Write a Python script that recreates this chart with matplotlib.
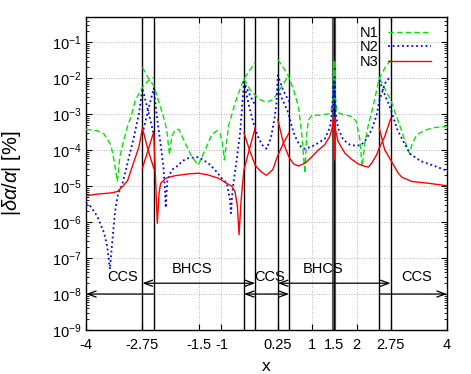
import numpy as np
import matplotlib
matplotlib.use('Agg')
import matplotlib.pyplot as plt
from matplotlib.ticker import LogFormatterSciNotation, FixedLocator, FixedFormatter, NullFormatter
from matplotlib.lines import Line2D

plt.rcParams['font.family'] = ['Liberation Sans', 'DejaVu Sans']
plt.rcParams['mathtext.fontset'] = 'custom'
plt.rcParams['mathtext.rm'] = 'Liberation Sans'
plt.rcParams['mathtext.it'] = 'Liberation Sans:italic'
plt.rcParams['mathtext.bf'] = 'Liberation Sans:bold'

# ---------------- data: x and log10(|dalpha/alpha| [%]) ----------------
# N1 (green dashed)
n1_ccs1_x = [-4.0, -3.75, -3.6, -3.45, -3.38, -3.305, -3.25, -3.19, -3.08, -3.0, -2.9, -2.75, -2.625, -2.5]
n1_ccs1_lg = [-3.42, -3.46, -3.55, -3.85, -4.27, -4.87, -4.18, -3.85, -3.34, -3.05, -2.6, -2.25, -2.08, -1.98]
n1_bh1_x = [-2.75, -2.625, -2.5, -2.4, -2.285, -2.21, -2.15, -2.1, -2.026, -1.94, -1.805, -1.657, -1.51,
            -1.36, -1.214, -1.103, -1.03, -0.977, -0.933, -0.904, -0.844, -0.697, -0.6, -0.5, -0.375, -0.25]
n1_bh1_lg = [-1.7, -1.98, -2.2, -2.6, -3.06, -3.44, -4.13, -3.62, -3.44, -3.42, -3.8, -4.18, -4.41,
             -3.99, -3.57, -3.46, -3.53, -3.8, -4.27, -3.99, -3.34, -2.69, -2.35, -2.02, -1.78, -1.56]
n1_ccs2_x = [-0.5, -0.366, -0.25, -0.15, 0.0, 0.148, 0.25, 0.375, 0.5]
n1_ccs2_lg = [-2.02, -2.31, -2.47, -2.59, -2.67, -2.59, -2.4, -2.15, -1.9]
n1_bh2_x = [0.25, 0.375, 0.486, 0.6, 0.708, 0.78, 0.85, 0.893, 0.93, 1.0, 1.226, 1.37, 1.43, 1.47, 1.49,
            1.5, 1.51, 1.53, 1.57, 1.735, 1.883, 1.99, 2.07, 2.12, 2.18, 2.25, 2.36, 2.5, 2.62, 2.75]
n1_bh2_lg = [-1.48, -1.7, -1.94, -2.32, -2.79, -3.53, -4.64, -3.53, -3.16, -3.04, -3.02, -2.99, -2.93, -2.6, -1.5,
             -2.8, -1.5, -2.6, -2.95, -3.02, -3.06, -3.2, -3.71, -4.45, -3.8, -3.34, -2.79, -2.0, -1.72, -1.5]
n1_ccs3_x = [2.5, 2.63, 2.75, 2.85, 3.0, 3.11, 3.17, 3.22, 3.33, 3.52, 3.74, 4.0]
n1_ccs3_lg = [-2.0, -2.3, -2.6, -2.95, -3.48, -3.9, -4.1, -3.85, -3.57, -3.44, -3.37, -3.34]

# N2 (blue dotted)
n2_ccs1_x = [-4.0, -3.9, -3.75, -3.6, -3.53, -3.47, -3.42, -3.36, -3.305, -3.19, -3.08, -2.935, -2.825, -2.75, -2.625, -2.5]
n2_ccs1_lg = [-5.47, -5.56, -5.84, -6.3, -6.68, -7.31, -6.58, -5.75, -5.29, -4.92, -4.36, -3.62, -2.97, -2.28, -2.9, -3.55]
n2_bh1_x = [-2.75, -2.625, -2.5, -2.47, -2.43, -2.36, -2.285, -2.25, -2.233, -2.196, -2.1, -1.94, -1.88, -1.73,
            -1.51, -1.29, -1.14, -0.99, -0.88, -0.81, -0.785, -0.765, -0.733, -0.66, -0.586, -0.5, -0.375, -0.25]
n2_bh1_lg = [-3.55, -2.9, -2.28, -2.6, -3.06, -3.71, -4.45, -5.1, -5.6, -4.82, -4.55, -4.41, -4.31, -4.22,
             -4.19, -4.36, -4.55, -4.78, -4.92, -5.38, -5.75, -5.3, -4.92, -4.27, -3.53, -2.1, -2.45, -2.75]
n2_ccs2_x = [-0.5, -0.4, -0.3, -0.2, -0.1, 0.0, 0.1, 0.18, 0.22, 0.25, 0.375, 0.5]
n2_ccs2_lg = [-2.1, -2.7, -3.2, -3.6, -3.85, -3.96, -3.65, -3.1, -2.7, -1.92, -2.35, -2.65]
n2_bh2_x = [0.25, 0.375, 0.486, 0.56, 0.634, 0.708, 0.78, 0.856, 1.0, 1.15, 1.3, 1.41, 1.455, 1.49, 1.5, 1.51,
            1.53, 1.587, 1.7, 1.85, 2.0, 2.1, 2.18, 2.33, 2.44, 2.5, 2.62, 2.75]
n2_bh2_lg = [-2.3, -2.65, -2.97, -3.34, -3.62, -3.8, -3.94, -3.96, -3.9, -3.8, -3.67, -3.35, -2.9, -2.05, -3.53, -2.05,
             -2.95, -3.39, -3.71, -3.85, -3.88, -3.85, -3.75, -3.44, -3.02, -2.63, -2.15, -1.94]
n2_ccs3_x = [2.5, 2.62, 2.75, 2.89, 3.03, 3.18, 3.41, 3.7, 4.0]
n2_ccs3_lg = [-2.05, -2.45, -2.85, -3.4, -3.75, -4.1, -4.3, -4.43, -4.57]

# N3 (red solid)
n3_ccs1_x = [-4.0, -3.75, -3.45, -3.305, -3.19, -3.08, -2.935, -2.825, -2.75, -2.625, -2.5]
n3_ccs1_lg = [-5.27, -5.22, -5.19, -5.15, -5.01, -4.85, -4.31, -3.9, -3.39, -3.99, -4.5]
n3_bh1_x = [-2.75, -2.625, -2.5, -2.455, -2.42, -2.38, -2.345, -2.23, -2.027, -1.73, -1.51, -1.29, -1.066,
            -0.88, -0.77, -0.697, -0.645, -0.608, -0.563, -0.527, -0.5, -0.375, -0.25]
n3_bh1_lg = [-4.5, -4.0, -3.5, -4.92, -6.03, -5.19, -4.92, -4.78, -4.71, -4.66, -4.64, -4.69, -4.78,
             -4.92, -5.0, -5.15, -5.56, -6.35, -5.4, -4.9, -4.55, -3.95, -3.38]
n3_ccs2_x = [-0.5, -0.375, -0.25, -0.12, 0.0, 0.14, 0.25, 0.375, 0.5]
n3_ccs2_lg = [-3.52, -4.0, -4.42, -4.6, -4.7, -4.54, -4.15, -3.8, -3.52]
n3_bh2_x = [0.25, 0.375, 0.5, 0.6, 0.708, 0.856, 1.0, 1.144, 1.29, 1.40, 1.455, 1.49, 1.5, 1.51, 1.53, 1.587,
            1.735, 1.883, 2.03, 2.18, 2.26, 2.33, 2.44, 2.5, 2.62, 2.75]
n3_bh2_lg = [-3.15, -3.8, -4.2, -4.38, -4.44, -4.36, -4.19, -4.0, -3.85, -3.62, -3.39, -3.1, -4.27, -3.1, -3.44, -3.76,
             -4.08, -4.25, -4.38, -4.45, -4.47, -4.36, -4.13, -3.94, -3.62, -3.13]
n3_ccs3_x = [2.5, 2.62, 2.75, 2.92, 3.0, 3.22, 3.59, 4.0]
n3_ccs3_lg = [-3.39, -3.99, -4.27, -4.64, -4.75, -4.87, -4.92, -4.99]

series_names = ['N1', 'N2', 'N3']
domain_edges = [-2.75, -2.5, -0.5, -0.25, 0.25, 0.5, 2.5, 2.75]
center_line = 1.5
ccs_ranges = [(-2.5, -4.0, '->'), (-0.5, 0.5, '<->'), (2.5, 4.0, '->')]
bhcs_ranges = [(-2.75, -0.25), (0.25, 2.75)]
ccs_arrow_y = 1.0e-8
bhcs_arrow_y = 2.0e-8
region_labels = ['CCS', 'BHCS', 'CCS', 'BHCS', 'CCS']
region_label_x = [-3.18, -1.65, 0.08, 1.25, 3.33]
region_label_y = [3.0e-8, 5.0e-8, 3.0e-8, 5.0e-8, 3.0e-8]
xtick_vals = [-4, -2.75, -1.5, -1, 0.25, 1, 1.5, 2, 2.75, 4]
xtick_labels = ['-4', '-2.75', '-1.5', '-1', '0.25', '1', '1.5', '2', '2.75', '4']
ytick_vals = [1e-9, 1e-8, 1e-7, 1e-6, 1e-5, 1e-4, 1e-3, 1e-2, 1e-1]

# ---------------- figure ----------------
fig = plt.figure(figsize=(4.71, 3.74), dpi=100)
ax = fig.add_axes([86/471, 44/374, 361/471, 313/374])
ax.set_yscale('log')
ax.set_xlim(-4, 4)
ax.set_ylim(1e-9, 0.505)

grid_kw = dict(color='#a0a0a0', lw=0.6, ls=(0, (1, 2)))
ax.grid(True, which='major', **grid_kw)
ax.set_axisbelow(True)

for e in domain_edges:
    ax.axvline(e, color='black', lw=1.0, zorder=1.5)
ax.axvline(center_line, color='#585858', lw=3.0, zorder=1.5)
ax.axvline(center_line, color='black', lw=0.8, zorder=1.6)

styles = {
    'N1': dict(color='#00e600', lw=1.0, ls=(0, (4, 2.2))),
    'N2': dict(color='#0000ff', lw=1.3, ls=(0, (1, 1.6))),
    'N3': dict(color='#ff0000', lw=1.0, ls='-'),
}
segs = {
    'N1': [(n1_ccs1_x, n1_ccs1_lg), (n1_bh1_x, n1_bh1_lg), (n1_ccs2_x, n1_ccs2_lg), (n1_bh2_x, n1_bh2_lg), (n1_ccs3_x, n1_ccs3_lg)],
    'N2': [(n2_ccs1_x, n2_ccs1_lg), (n2_bh1_x, n2_bh1_lg), (n2_ccs2_x, n2_ccs2_lg), (n2_bh2_x, n2_bh2_lg), (n2_ccs3_x, n2_ccs3_lg)],
    'N3': [(n3_ccs1_x, n3_ccs1_lg), (n3_bh1_x, n3_bh1_lg), (n3_ccs2_x, n3_ccs2_lg), (n3_bh2_x, n3_bh2_lg), (n3_ccs3_x, n3_ccs3_lg)],
}
handles = []
for i, name in enumerate(series_names):
    for xs, lg in segs[name]:
        ax.plot(xs, 10.0 ** np.asarray(lg), zorder=3 + i, **styles[name])
    handles.append(Line2D([], [], **styles[name]))

leg = ax.legend(handles, series_names, loc='upper right', bbox_to_anchor=(0.955, 0.972),
                markerfirst=False, frameon=False, fontsize=10.5, handlelength=2.9,
                handletextpad=0.7, labelspacing=0.05, borderpad=0, borderaxespad=0)

arrow_kw = dict(lw=0.9, color='black', shrinkA=0, shrinkB=0)
for a, b, st in ccs_ranges:
    ax.annotate('', xy=(b, ccs_arrow_y), xytext=(a, ccs_arrow_y),
                arrowprops=dict(arrowstyle=st + ',head_length=0.6,head_width=0.22', **arrow_kw), zorder=6)
for a, b in bhcs_ranges:
    ax.annotate('', xy=(b, bhcs_arrow_y), xytext=(a, bhcs_arrow_y),
                arrowprops=dict(arrowstyle='<->,head_length=0.6,head_width=0.22', **arrow_kw), zorder=6)
for t, x, y in zip(region_labels, region_label_x, region_label_y):
    ax.text(x, y, t, ha='center', va='center', fontsize=10.5, zorder=7)

ax.xaxis.set_major_locator(FixedLocator(xtick_vals))
ax.xaxis.set_major_formatter(FixedFormatter(xtick_labels))
ax.yaxis.set_major_locator(FixedLocator(ytick_vals))
ax.yaxis.set_major_formatter(LogFormatterSciNotation())
minor_vals = [m * d for d in ytick_vals for m in range(2, 10) if m * d <= 0.5]
ax.yaxis.set_minor_locator(FixedLocator(minor_vals))
ax.yaxis.set_minor_formatter(NullFormatter())
ax.tick_params(axis='both', which='major', direction='in', length=4.5, width=0.8,
               top=True, right=True, labelsize=10.5)
ax.tick_params(axis='both', which='minor', direction='in', length=2.3, width=0.6,
               top=True, right=True)
ax.tick_params(axis='x', pad=6)
ax.tick_params(axis='y', pad=3)
for s in ax.spines.values():
    s.set_linewidth(1.0)

ax.set_xlabel('x', fontsize=12.5, labelpad=5)
ax.set_ylabel(r'$|\delta\alpha/\alpha|$ [%]', fontsize=14.5)
ax.yaxis.set_label_coords(-0.175, 0.5)

fig.savefig('out.png', dpi=100)
